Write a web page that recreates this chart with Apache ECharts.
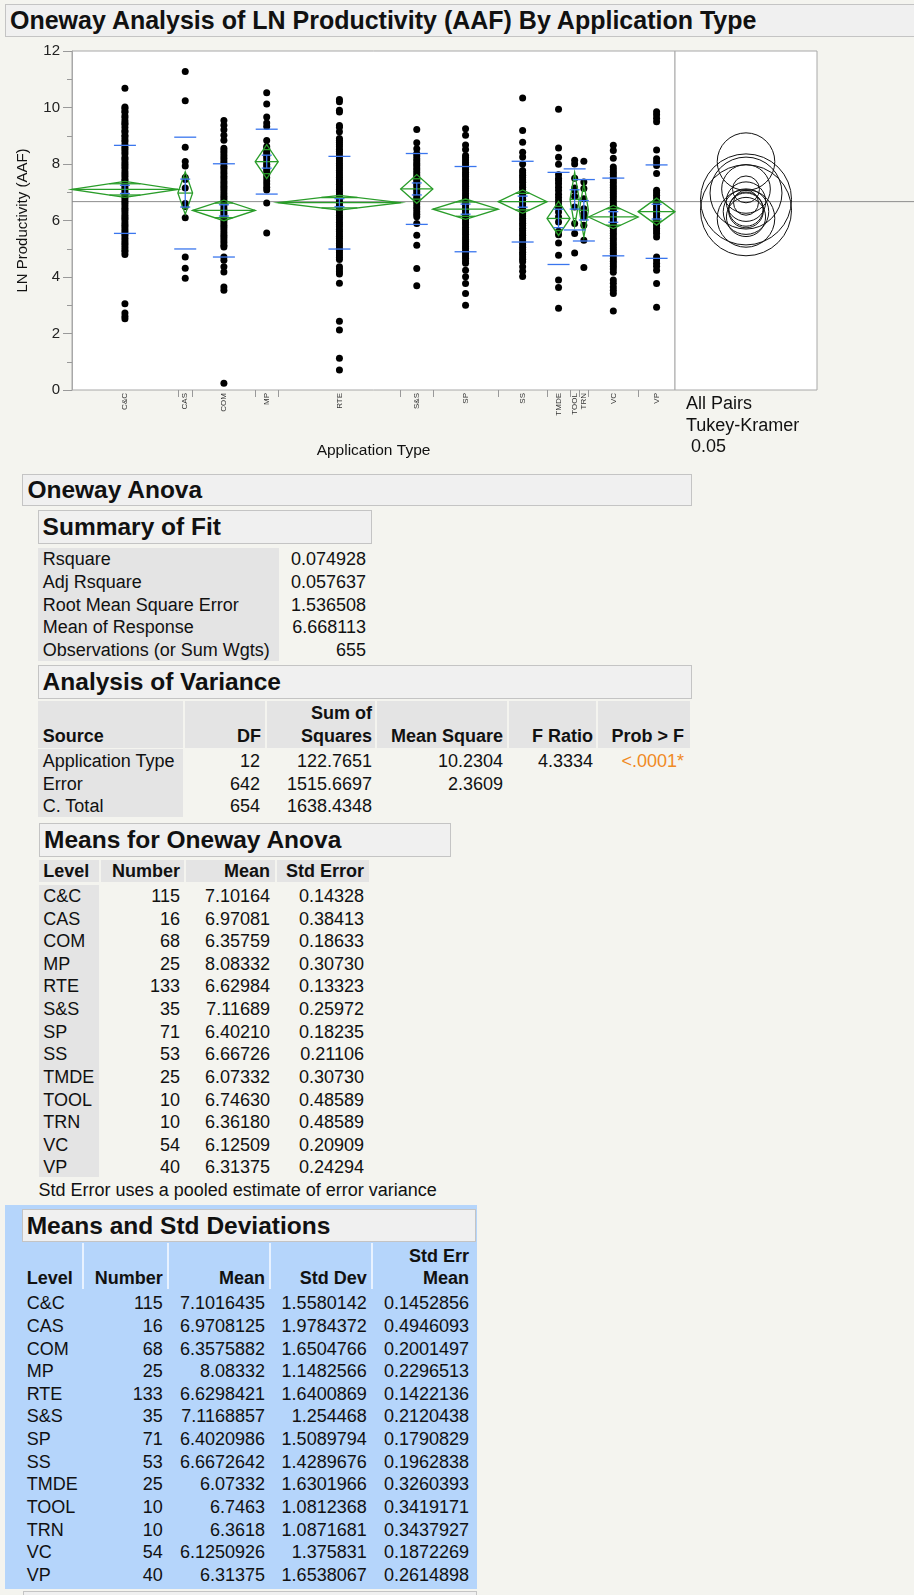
<!DOCTYPE html>
<html>
<head>
<meta charset="utf-8">
<script src="https://cdn.jsdelivr.net/npm/echarts@6/dist/echarts.min.js"></script>
<style>
body { margin: 0; background: #f4f4ef; font-family: "Liberation Sans", Arial, sans-serif; color: #111; }
#page { position: relative; width: 914px; height: 1595px; overflow: hidden; }
#chart { position: absolute; left: 0; top: 0; width: 914px; height: 470px; }
.box { position: absolute; background: #f0f0f0; border: 1px solid #c4c4c4; box-sizing: border-box; font-weight: bold; font-size: 24.5px; padding-left: 4px; white-space: nowrap; overflow: hidden; }
.cell { position: absolute; background: #e4e4e4; }
.t { position: absolute; font-size: 18px; line-height: 22px; white-space: nowrap; }
.b { font-weight: bold; }
</style>
</head>
<body>
<div id="page">
  <div class="box" style="left:5px;top:4px;width:915px;height:33px;line-height:31px;font-size:25px;">Oneway Analysis of LN Productivity (AAF) By Application Type</div>
  <div id="chart"></div>
</div>
<script>
// groups, in plot order
var levels = ['C&C', 'CAS', 'COM', 'MP', 'RTE', 'S&S', 'SP', 'SS', 'TMDE', 'TOOL', 'TRN', 'VC', 'VP'];
var counts = [115, 16, 68, 25, 133, 35, 71, 53, 25, 10, 10, 54, 40];
var groupMeans = [7.1016435, 6.9708125, 6.3575882, 8.08332, 6.6298421, 7.1168857, 6.4020986, 6.6672642, 6.07332, 6.7463, 6.3618, 6.1250926, 6.31375];
var stdDevs = [1.5580142, 1.9784372, 1.6504766, 1.1482566, 1.6400869, 1.254468, 1.5089794, 1.4289676, 1.6301966, 1.0812368, 1.0871681, 1.375831, 1.6538067];
var stdErrMeans = [0.1452856, 0.4946093, 0.2001497, 0.2296513, 0.1422136, 0.2120438, 0.1790829, 0.1962838, 0.3260393, 0.3419171, 0.3437927, 0.1872269, 0.2614898];
var pooledStdErr = [0.14328, 0.38413, 0.18633, 0.30730, 0.13323, 0.25972, 0.18235, 0.21106, 0.30730, 0.48589, 0.48589, 0.20909, 0.24294];

// observations
var ptsCC = [10.68, 10.02, 9.97, 9.88, 9.83, 9.71, 9.64, 9.53, 9.45, 9.4, 9.29, 9.18, 9.13, 9.02, 8.96, 8.86, 8.79, 8.68, 8.59, 8.52, 8.43, 8.35, 8.23, 8.17, 8.07, 7.99, 7.91, 7.83, 7.73, 7.65, 7.57, 7.47, 7.41, 7.32, 7.24, 7.16, 7.09, 7.01, 6.93, 6.85, 6.77, 6.68, 6.61, 6.52, 6.43, 6.36, 6.27, 6.19, 6.11, 6.04, 5.95, 5.86, 5.79, 5.7, 5.62, 5.53, 5.46, 5.37, 5.28, 5.2, 5.13, 5.04, 4.96, 4.89, 4.8, 3.05, 2.73, 2.61, 2.52];
var ptsCAS = [11.27, 10.24, 8.59, 8.09, 7.93, 7.52, 7.45, 7.15, 6.6, 6.55, 6.5, 6.1, 4.71, 4.31, 3.96];
var ptsCOM = [9.54, 9.37, 9.21, 9.02, 8.84, 8.56, 8.47, 8.39, 8.29, 8.2, 8.11, 8.03, 7.92, 7.85, 7.75, 7.66, 7.57, 7.48, 7.38, 7.3, 7.21, 7.13, 7.04, 6.95, 6.86, 6.78, 6.69, 6.59, 6.51, 6.42, 6.34, 6.26, 6.17, 6.09, 6.01, 5.92, 5.83, 5.75, 5.66, 5.57, 5.48, 5.4, 5.31, 5.22, 5.12, 5.06, 4.71, 4.59, 4.36, 4.18, 3.65, 3.53, 0.24];
var ptsMP = [10.52, 10.12, 9.66, 9.45, 9.33, 8.83, 8.62, 8.55, 8.44, 8.36, 8.27, 8.19, 8.08, 7.99, 7.92, 7.81, 7.73, 7.62, 7.51, 7.4, 7.29, 7.18, 7.08, 6.62, 5.56];
var ptsRTE = [10.28, 10.2, 9.9, 9.84, 9.36, 9.3, 9.14, 8.9, 8.84, 8.77, 8.69, 8.61, 8.52, 8.45, 8.37, 8.27, 8.19, 8.11, 8.02, 7.94, 7.86, 7.78, 7.69, 7.61, 7.53, 7.45, 7.36, 7.28, 7.19, 7.11, 7.03, 6.94, 6.86, 6.78, 6.69, 6.61, 6.53, 6.44, 6.36, 6.27, 6.19, 6.11, 6.03, 5.94, 5.86, 5.78, 5.69, 5.61, 5.52, 5.44, 5.36, 5.27, 5.19, 5.11, 5.02, 4.94, 4.86, 4.78, 4.7, 4.62, 4.36, 4.28, 4.19, 4.11, 3.78, 2.43, 2.12, 1.12, 0.71];
var ptsSandS = [9.22, 8.75, 8.54, 8.37, 8.28, 8.19, 8.11, 8.02, 7.95, 7.86, 7.79, 7.7, 7.61, 7.54, 7.44, 7.37, 7.28, 7.2, 7.1, 7.02, 6.94, 6.84, 6.77, 6.67, 6.58, 6.49, 6.41, 6.31, 6.22, 6.13, 5.89, 5.48, 5.12, 4.3, 3.69];
var ptsSP = [9.25, 9.02, 8.67, 8.51, 8.3, 8.22, 8.14, 8.05, 7.97, 7.88, 7.8, 7.71, 7.63, 7.55, 7.46, 7.38, 7.29, 7.21, 7.12, 7.04, 6.95, 6.87, 6.78, 6.7, 6.61, 6.53, 6.44, 6.36, 6.27, 6.19, 6.1, 6.02, 5.93, 5.85, 5.76, 5.68, 5.59, 5.51, 5.42, 5.34, 5.25, 5.17, 5.08, 5.0, 4.91, 4.83, 4.74, 4.66, 4.57, 4.49, 4.24, 4.01, 3.77, 3.42, 3.0];
var ptsSS = [10.34, 9.19, 8.77, 8.42, 8.25, 8.0, 7.77, 7.69, 7.6, 7.52, 7.43, 7.35, 7.26, 7.18, 7.09, 7.01, 6.92, 6.84, 6.75, 6.67, 6.58, 6.5, 6.41, 6.33, 6.24, 6.16, 6.07, 5.99, 5.9, 5.82, 5.73, 5.65, 5.56, 5.48, 5.39, 5.31, 5.22, 5.14, 5.05, 4.97, 4.88, 4.8, 4.71, 4.63, 4.54, 4.36, 4.2, 4.02];
var ptsTMDE = [9.94, 8.57, 8.24, 7.99, 7.62, 7.5, 7.41, 7.3, 7.18, 7.06, 6.93, 6.81, 6.7, 6.58, 6.45, 6.3, 6.12, 5.95, 5.62, 5.5, 5.2, 4.77, 3.89, 3.63, 2.89];
var ptsTOOL = [8.13, 8.0, 7.5, 7.15, 7.07, 6.85, 6.48, 5.89, 5.54, 4.85];
var ptsTRN = [8.1, 7.36, 7.13, 6.77, 6.42, 6.25, 6.12, 5.83, 5.3, 4.34];
var ptsVC = [8.66, 8.48, 8.2, 7.89, 7.8, 7.71, 7.62, 7.53, 7.44, 7.35, 7.26, 7.17, 7.08, 6.99, 6.9, 6.81, 6.72, 6.63, 6.54, 6.45, 6.36, 6.27, 6.18, 6.09, 6.0, 5.91, 5.82, 5.73, 5.64, 5.55, 5.46, 5.37, 5.28, 5.19, 5.1, 5.01, 4.92, 4.83, 4.74, 4.65, 4.56, 4.47, 4.38, 4.28, 4.17, 3.89, 3.78, 3.65, 3.53, 3.42, 2.8];
var ptsVP = [9.85, 9.74, 9.62, 9.5, 8.5, 8.19, 8.07, 7.95, 7.66, 7.07, 6.98, 6.89, 6.8, 6.71, 6.62, 6.53, 6.44, 6.35, 6.26, 6.17, 6.08, 5.99, 5.9, 5.81, 5.72, 5.63, 5.54, 5.42, 4.71, 4.6, 4.49, 4.38, 4.24, 3.77, 2.93];
var groupPoints = [ptsCC, ptsCAS, ptsCOM, ptsMP, ptsRTE, ptsSandS, ptsSP, ptsSS, ptsTMDE, ptsTOOL, ptsTRN, ptsVC, ptsVP];

// report tables
var fitLabels = ['Rsquare', 'Adj Rsquare', 'Root Mean Square Error', 'Mean of Response', 'Observations (or Sum Wgts)'];
var fitValues = ['0.074928', '0.057637', '1.536508', '6.668113', '655'];
var anovaSource = ['Application Type', 'Error', 'C. Total'];
var anovaDF = ['12', '642', '654'];
var anovaSS = ['122.7651', '1515.6697', '1638.4348'];
var anovaMS = ['10.2304', '2.3609', ''];
var anovaF = ['4.3334', '', ''];
var anovaProb = ['<.0001*', '', ''];

var grandMean = 6.668113;
var tCrit = 1.9637;   // t(.975, 642)
var tukeyQ = 3.316;   // q(.95, 13, 642) / sqrt(2)

// x positions: each level gets a width proportional to its count
var bounds = [], centers = [], cum = 0;
for (var i = 0; i < counts.length; i++) {
    centers.push(cum + counts[i] / 2);
    cum += counts[i];
    if (i < counts.length - 1) bounds.push(cum);
}
var total = cum;

var scatterData = [], diamondData = [], blueData = [], circleData = [];
for (var i = 0; i < levels.length; i++) {
    groupPoints[i].forEach(function(v) { scatterData.push([centers[i], v]); });
    diamondData.push([centers[i] - counts[i] / 2, centers[i] + counts[i] / 2, groupMeans[i], tCrit * pooledStdErr[i]]);
    blueData.push([centers[i], groupMeans[i], stdDevs[i], stdErrMeans[i]]);
    circleData.push([0, groupMeans[i], tukeyQ * pooledStdErr[i]]);
}

var green = '#2a9d2a', blue = '#3a76ee';

function renderDiamond(params, api) {
    var x0 = api.value(0), x1 = api.value(1), m = api.value(2), ci = api.value(3);
    var xc = (x0 + x1) / 2;
    var L = api.coord([x0, m]), R = api.coord([x1, m]);
    var T = api.coord([xc, m + ci]), B = api.coord([xc, m - ci]);
    var d = ci / Math.SQRT2;
    var yu = api.coord([xc, m + d])[1], yl = api.coord([xc, m - d])[1];
    var w = (R[0] - L[0]) / 2 * (1 - 1 / Math.SQRT2);
    var st = { stroke: green, fill: 'none', lineWidth: 1.3 };
    return {
        type: 'group',
        children: [
            { type: 'polygon', shape: { points: [L, T, R, B] }, style: st },
            { type: 'line', shape: { x1: L[0], y1: L[1], x2: R[0], y2: R[1] }, style: st },
            { type: 'line', shape: { x1: T[0] - w, y1: yu, x2: T[0] + w, y2: yu }, style: st },
            { type: 'line', shape: { x1: T[0] - w, y1: yl, x2: T[0] + w, y2: yl }, style: st }
        ]
    };
}

function renderBlue(params, api) {
    var xc = api.value(0), m = api.value(1), sd = api.value(2), se = api.value(3);
    var c = api.coord([xc, m]);
    var sdTop = api.coord([xc, m + sd])[1], sdBot = api.coord([xc, m - sd])[1];
    var seTop = api.coord([xc, m + se])[1], seBot = api.coord([xc, m - se])[1];
    var st = { stroke: blue, lineWidth: 1.3 };
    function hl(y, hw) { return { type: 'line', shape: { x1: c[0] - hw, y1: y, x2: c[0] + hw, y2: y }, style: st }; }
    return {
        type: 'group',
        children: [
            hl(sdTop, 11), hl(sdBot, 11), hl(seTop, 5), hl(seBot, 5),
            { type: 'line', shape: { x1: c[0], y1: seTop, x2: c[0], y2: seBot }, style: st }
        ]
    };
}

function renderCircle(params, api) {
    var c = api.coord([0, api.value(1)]);
    var r = api.size([0, api.value(2)])[1];
    return { type: 'circle', shape: { cx: c[0], cy: c[1], r: r }, style: { stroke: '#111', fill: 'none', lineWidth: 1 } };
}

function renderMeanLine(params, api) {
    var p = api.coord([0, api.value(1)]);
    return { type: 'line', shape: { x1: p[0], y1: p[1], x2: api.getWidth(), y2: p[1] }, style: { stroke: '#8c8c8c', lineWidth: 1 } };
}

var chart = echarts.init(document.getElementById('chart'));
var option = {
    animation: false,
    textStyle: { fontFamily: 'Liberation Sans, Arial, sans-serif' },
    grid: [
        { left: 72, top: 51, width: 603, height: 339, show: true, backgroundColor: '#fff', borderColor: '#a8a8a8', borderWidth: 1 },
        { left: 675, top: 51, width: 142, height: 339, show: true, backgroundColor: '#fff', borderColor: '#a8a8a8', borderWidth: 1 }
    ],
    xAxis: [{
        type: 'value', gridIndex: 0, min: 0, max: total,
        splitLine: { show: false },
        axisLine: { show: false },
        axisTick: { show: true, customValues: bounds, length: 7, lineStyle: { color: '#999' } },
        axisLabel: {
            customValues: centers, rotate: 90, fontSize: 8, margin: 3, color: '#333',
            formatter: function(v) {
                for (var i = 0; i < centers.length; i++) if (Math.abs(centers[i] - v) < 1e-6) return levels[i];
                return '';
            }
        },
        name: 'Application Type', nameLocation: 'middle', nameGap: 53,
        nameTextStyle: { fontSize: 15.5, color: '#111' }
    }, {
        type: 'value', gridIndex: 1, min: -1, max: 1, show: false
    }],
    yAxis: [{
        type: 'value', gridIndex: 0, min: 0, max: 12, interval: 2,
        splitLine: { show: false },
        axisLine: { show: true, lineStyle: { color: '#a8a8a8' } },
        axisTick: { show: true, length: 9, lineStyle: { color: '#999' } },
        minorTick: { show: true, splitNumber: 2, length: 5, lineStyle: { color: '#999' } },
        axisLabel: { fontSize: 15, color: '#222', margin: 12 },
        name: 'LN Productivity (AAF)', nameLocation: 'middle', nameGap: 42,
        nameTextStyle: { fontSize: 15, color: '#111' }
    }, {
        type: 'value', gridIndex: 1, min: 0, max: 12, show: false
    }],
    graphic: [
        { type: 'text', left: 686, top: 395, style: { text: 'All Pairs', fontSize: 18, fill: '#111', fontFamily: 'Liberation Sans, Arial, sans-serif' } },
        { type: 'text', left: 686, top: 417, style: { text: 'Tukey-Kramer', fontSize: 18, fill: '#111', fontFamily: 'Liberation Sans, Arial, sans-serif' } },
        { type: 'text', left: 686, top: 438, style: { text: ' 0.05', fontSize: 18, fill: '#111', fontFamily: 'Liberation Sans, Arial, sans-serif' } }
    ],
    series: [{
        type: 'custom', xAxisIndex: 0, yAxisIndex: 0, z: 1, silent: true,
        renderItem: renderMeanLine, data: [[0, grandMean]], encode: { x: 0, y: 1 }
    }, {
        type: 'scatter', xAxisIndex: 0, yAxisIndex: 0, z: 2, silent: true,
        symbolSize: 7, itemStyle: { color: '#000', opacity: 1 }, data: scatterData
    }, {
        type: 'custom', xAxisIndex: 0, yAxisIndex: 0, z: 3, silent: true,
        renderItem: renderDiamond, data: diamondData, encode: { x: [0, 1], y: 2 }
    }, {
        type: 'custom', xAxisIndex: 0, yAxisIndex: 0, z: 4, silent: true,
        renderItem: renderBlue, data: blueData, encode: { x: 0, y: 1 }
    }, {
        type: 'custom', xAxisIndex: 1, yAxisIndex: 1, z: 2, silent: true,
        renderItem: renderCircle, data: circleData, encode: { x: 0, y: 1 }
    }]
};
chart.setOption(option);

// ---- report tables below the plot ----
var page = document.getElementById('page');
function el(cls, css, text) {
    var d = document.createElement('div');
    d.className = cls;
    d.style.cssText = css;
    if (text !== undefined) d.textContent = text;
    page.appendChild(d);
    return d;
}
function box(x, y, w, h, text, fs) {
    el('box', 'left:' + x + 'px;top:' + y + 'px;width:' + w + 'px;height:' + h + 'px;line-height:' + (h - 2) + 'px;' + (fs ? 'font-size:' + fs + 'px;' : ''), text);
}
function fill(x, y, w, h, color) {
    el('cell', 'left:' + x + 'px;top:' + y + 'px;width:' + w + 'px;height:' + h + 'px;' + (color ? 'background:' + color + ';' : ''));
}
function txtL(text, x, cy, bold, color) {
    el('t' + (bold ? ' b' : ''), 'left:' + x + 'px;top:' + (cy - 11) + 'px;' + (color ? 'color:' + color + ';' : ''), text);
}
function txtR(text, x, cy, bold, color) {
    el('t' + (bold ? ' b' : ''), 'right:' + (914 - x) + 'px;top:' + (cy - 11) + 'px;' + (color ? 'color:' + color + ';' : ''), text);
}
var pitch = 22.62;

// Oneway Anova / Summary of Fit
box(22.4, 474, 670, 31.5, 'Oneway Anova');
box(37.6, 509.5, 334.5, 34.5, 'Summary of Fit');
fill(37.6, 548, 241, 113);
fitLabels.forEach(function(s, i) {
    txtL(s, 42.7, 559.3 + i * pitch);
    txtR(fitValues[i], 366, 559.3 + i * pitch);
});

// Analysis of Variance
box(37.6, 665, 654.5, 33.5, 'Analysis of Variance');
[[37.6, 183], [185, 265], [267, 375], [377, 507], [509, 596], [598, 690]].forEach(function(c) {
    fill(c[0], 701, c[1] - c[0], 46.5);
});
fill(37.6, 749, 145.4, 67.5);
txtL('Source', 42.7, 736, true);
txtR('DF', 261, 736, true);
txtR('Sum of', 372, 713.3, true);
txtR('Squares', 372, 736, true);
txtR('Mean Square', 503, 736, true);
txtR('F Ratio', 593, 736, true);
txtR('Prob > F', 684, 736, true);
anovaSource.forEach(function(s, i) {
    var cy = 761.2 + i * pitch;
    txtL(s, 42.7, cy);
    txtR(anovaDF[i], 260, cy);
    txtR(anovaSS[i], 372, cy);
    txtR(anovaMS[i], 503, cy);
    txtR(anovaF[i], 593, cy);
    txtR(anovaProb[i], 684, cy, false, '#f08a24');
});

// Means for Oneway Anova
box(39, 823, 411.5, 34, 'Means for Oneway Anova');
[[39.3, 99.3], [101.3, 184.3], [186.3, 275.3], [277.3, 369]].forEach(function(c) {
    fill(c[0], 860, c[1] - c[0], 21.5);
});
fill(39.3, 885, 60, 292);
txtL('Level', 43.3, 870.7, true);
txtR('Number', 180, 870.7, true);
txtR('Mean', 270, 870.7, true);
txtR('Std Error', 364, 870.7, true);
levels.forEach(function(s, i) {
    var cy = 896 + i * pitch;
    txtL(s, 43.3, cy);
    txtR(String(counts[i]), 180, cy);
    txtR(groupMeans[i].toFixed(5), 270, cy);
    txtR(pooledStdErr[i].toFixed(5), 364, cy);
});
txtL('Std Error uses a pooled estimate of error variance', 38.6, 1189.5);

// Means and Std Deviations (selected, blue)
fill(5, 1205, 472, 383.5, '#b5d5fb');
box(21.7, 1209, 454, 33.3, 'Means and Std Deviations');
[83.3, 168.3, 270, 372.3].forEach(function(x) { fill(x - 1, 1243, 2, 46, '#e8f2ff'); });
txtR('Std Err', 469, 1255.7, true);
txtL('Level', 26.7, 1278.3, true);
txtR('Number', 162.7, 1278.3, true);
txtR('Mean', 265, 1278.3, true);
txtR('Std Dev', 366.7, 1278.3, true);
txtR('Mean', 469, 1278.3, true);
levels.forEach(function(s, i) {
    var cy = 1303.3 + i * pitch;
    txtL(s, 26.7, cy);
    txtR(String(counts[i]), 162.7, cy);
    txtR(String(groupMeans[i]), 265, cy);
    txtR(String(stdDevs[i]), 366.7, cy);
    txtR(String(stdErrMeans[i]), 469, cy);
});
box(22.7, 1591, 454, 20, '');
</script>
</body>
</html>
